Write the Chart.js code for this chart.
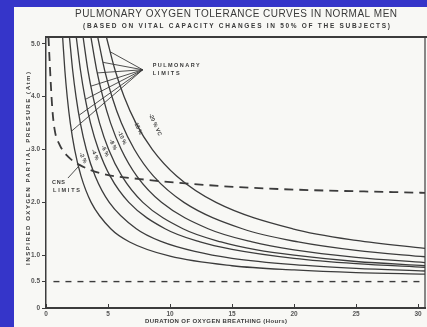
<!DOCTYPE html>
<html>
<head>
<title>Pulmonary Oxygen Tolerance Curves</title>
<script src="https://cdn.jsdelivr.net/npm/chart.js@4.4.0/dist/chart.umd.min.js"></script>
<style>
    html, body { margin: 0; padding: 0; background: #3535c9; }
    .chart-box { position: relative; width: 427px; height: 327px; }
</style>
</head>
<body>
<div class="chart-box"><canvas id="toleranceChart"></canvas></div>
<script>
// axis ticks
const xTicks = [0, 5, 10, 15, 20, 25, 30];
const yTicks = [0, 0.5, 1, 2, 3, 4, 5];
const yTickLabels = ['0', '0.5', '1.0', '2.0', '3.0', '4.0', '5.0'];

// pulmonary limit curves, [hours, atm]
const vc2 = [[1.34,5.13],[1.52,4.5],[1.71,4.0],[1.96,3.5],[2.31,3.0],[2.82,2.5],[3.64,2.0],[5.22,1.5],[6.74,1.25],[10,0.98],[15,0.80],[20,0.72],[25,0.67],[30.56,0.64]];
const vc4 = [[1.89,5.13],[2.15,4.5],[2.42,4.0],[2.77,3.5],[3.25,3.0],[3.96,2.5],[5.10,2.0],[7.28,1.5],[9.38,1.25],[12,1.07],[15,0.94],[20,0.82],[25,0.75],[30.56,0.70]];
const vc6 = [[2.44,5.13],[2.78,4.5],[3.13,4.0],[3.59,3.5],[4.23,3.0],[5.16,2.5],[6.68,2.0],[9.60,1.5],[12.42,1.25],[15,1.11],[20,0.94],[25,0.84],[30.56,0.77]];
const vc8 = [[2.99,5.13],[3.38,4.5],[3.79,4.0],[4.32,3.5],[5.05,3.0],[6.11,2.5],[7.81,2.0],[11.04,1.5],[14.11,1.25],[17,1.10],[20,1.00],[25,0.88],[30.56,0.80]];
const vc10 = [[3.62,5.13],[4.09,4.5],[4.58,4.0],[5.21,3.5],[6.07,3.0],[7.31,2.5],[9.31,2.0],[13.07,1.5],[16.62,1.25],[20,1.10],[25,0.96],[30.56,0.86]];
const vc15 = [[4.17,5.13],[4.73,4.5],[5.32,4.0],[6.08,3.5],[7.13,3.0],[8.65,2.5],[11.12,2.0],[15.83,1.5],[20.33,1.25],[25,1.09],[30.56,0.97]];
const vc20 = [[4.87,5.13],[5.57,4.5],[6.30,4.0],[7.25,3.5],[8.58,3.0],[10.53,2.5],[13.71,2.0],[19.89,1.5],[25,1.28],[30.56,1.13]];
const curveLabels = ['-2 %', '-4 %', '-6 %', '-8 %', '-10 %', '-15 %', '-20 % VC'];
const curveLabelSpots = [[2.98,2.84],[3.95,2.90],[4.76,2.97],[5.40,3.09],[6.13,3.22],[7.42,3.41],[8.79,3.47]];

// CNS limit (dashed) and the 0.5 atm line
const cns = [[0.2,5.13],[0.3,4.64],[0.5,3.8],[0.7,3.37],[1.1,3.09],[1.8,2.86],[2.7,2.71],[4.4,2.55],[7.6,2.44],[14,2.31],[19,2.25],[30.56,2.18]];
const halfAtm = [[0.6,0.5],[30.56,0.5]];

// pointer lines from the labels to the curves
const pulmHub = [7.8, 4.51];
const pulmEnds = [[5.18,4.85],[4.6,4.65],[4.13,4.45],[3.63,4.2],[3.18,3.95],[2.67,3.65],[2.07,3.35]];
const cnsPointer = [[1.77,2.46],[2.74,2.71]];

const ink = '#3c3c3c';
const pts = arr => arr.map(p => ({ x: p[0], y: p[1] }));

const curveSets = [vc2, vc4, vc6, vc8, vc10, vc15, vc20].map((c, i) => ({
    label: curveLabels[i],
    data: pts(c),
    borderColor: ink,
    borderWidth: 1.3,
    cubicInterpolationMode: 'monotone'
}));

const pointerSets = pulmEnds.map(e => ({
    label: 'pointer',
    data: pts([e, pulmHub]),
    borderColor: ink,
    borderWidth: 0.9
}));

// text laid out across a given span
function spacedText(ctx, text, x1, x2, y, font) {
    ctx.font = font;
    ctx.letterSpacing = '0px';
    const w = ctx.measureText(text).width;
    const sp = (x2 - x1 - w) / Math.max(1, text.length - 1);
    ctx.letterSpacing = sp + 'px';
    ctx.textAlign = 'left';
    ctx.textBaseline = 'middle';
    ctx.fillText(text, x1, y);
    ctx.letterSpacing = '0px';
}

const paperPlugin = {
    id: 'paper',
    beforeDraw(chart) {
        const ctx = chart.ctx;
        ctx.save();
        ctx.fillStyle = '#f8f8f5';
        ctx.fillRect(14, 7, chart.width - 14, chart.height - 7);
        ctx.restore();
    },
    afterDraw(chart) {
        const ctx = chart.ctx;
        const a = chart.chartArea;
        const xs = chart.scales.x, ys = chart.scales.y;
        ctx.save();
        // top and right frame
        ctx.strokeStyle = ink;
        ctx.lineWidth = 2;
        ctx.beginPath();
        ctx.moveTo(a.left, a.top);
        ctx.lineTo(chart.width, a.top);
        ctx.stroke();
        ctx.lineWidth = 1.2;
        ctx.beginPath();
        ctx.moveTo(a.right, a.top);
        ctx.lineTo(a.right, a.bottom);
        ctx.stroke();

        // x ticks point up into the plot
        ctx.lineWidth = 1;
        xTicks.forEach(v => {
            const px = Math.round(xs.getPixelForValue(v)) + 0.5;
            ctx.beginPath();
            ctx.moveTo(px, a.bottom);
            ctx.lineTo(px, a.bottom - 4);
            ctx.stroke();
        });

        ctx.fillStyle = '#3a3a3a';
        spacedText(ctx, 'PULMONARY OXYGEN TOLERANCE CURVES IN NORMAL MEN', 75, 397, 14, '10px "Liberation Sans"');
        spacedText(ctx, '(BASED ON VITAL CAPACITY CHANGES IN 50% OF THE SUBJECTS)', 83, 390, 26, 'bold 6.5px "Liberation Sans"');
        spacedText(ctx, 'DURATION OF OXYGEN BREATHING (Hours)', 145, 287, 321, 'bold 6px "Liberation Sans"');

        ctx.save();
        ctx.translate(28, 265);
        ctx.rotate(-Math.PI / 2);
        spacedText(ctx, 'INSPIRED OXYGEN PARTIAL PRESSURE (Atm)', 0, 193, 0, 'bold 6px "Liberation Sans"');
        ctx.restore();

        // notes beside the curves
        const small = 'bold 5.5px "Liberation Sans"';
        spacedText(ctx, 'PULMONARY', xs.getPixelForValue(8.6), xs.getPixelForValue(8.6) + 47, ys.getPixelForValue(4.6), small);
        spacedText(ctx, 'LIMITS', xs.getPixelForValue(8.6), xs.getPixelForValue(8.6) + 27, ys.getPixelForValue(4.43), small);
        spacedText(ctx, 'CNS', 52, 65, 182, small);
        spacedText(ctx, 'LIMITS', 53, 80, 190, small);

        curveLabels.forEach((t, i) => {
            const px = xs.getPixelForValue(curveLabelSpots[i][0]);
            const py = ys.getPixelForValue(curveLabelSpots[i][1]);
            ctx.save();
            ctx.translate(px, py);
            ctx.rotate(65 * Math.PI / 180);
            ctx.font = small;
            ctx.textAlign = 'center';
            ctx.textBaseline = 'middle';
            ctx.fillText(t, 0, 0);
            ctx.restore();
        });
        ctx.restore();
    }
};

new Chart(document.getElementById('toleranceChart'), {
    type: 'scatter',
    data: {
        datasets: [
            ...curveSets,
            ...pointerSets,
            {
                label: 'CNS limits',
                data: pts(cns),
                borderColor: ink,
                borderWidth: 1.8,
                borderDash: [9, 6],
                cubicInterpolationMode: 'monotone'
            },
            {
                label: 'CNS pointer',
                data: pts(cnsPointer),
                borderColor: ink,
                borderWidth: 0.9
            },
            {
                label: '0.5 atm',
                data: pts(halfAtm),
                borderColor: ink,
                borderWidth: 1.4,
                borderDash: [6, 6]
            }
        ]
    },
    options: {
        responsive: true,
        maintainAspectRatio: false,
        animation: false,
        showLine: true,
        elements: { point: { radius: 0, hoverRadius: 0 } },
        layout: { padding: { left: 14, top: 37, right: 2, bottom: 0 } },
        plugins: { legend: { display: false }, tooltip: { enabled: false } },
        scales: {
            x: {
                type: 'linear',
                min: 0,
                max: 30.56,
                afterBuildTicks: s => { s.ticks = xTicks.map(v => ({ value: v })); },
                afterFit: s => { s.height = 19; },
                grid: { drawOnChartArea: false, drawTicks: false, color: ink },
                border: { color: ink, width: 2 },
                ticks: { color: '#555', font: { size: 6.5, family: 'Liberation Sans', weight: 'bold' }, padding: 2, maxRotation: 0 }
            },
            y: {
                type: 'linear',
                min: 0,
                max: 5.13,
                afterBuildTicks: s => { s.ticks = yTicks.map(v => ({ value: v })); },
                afterFit: s => { s.width = 32; },
                grid: { drawOnChartArea: false, tickLength: 4, color: ink },
                border: { color: ink, width: 1.5 },
                ticks: {
                    color: '#555',
                    font: { size: 6.5, family: 'Liberation Sans', weight: 'bold' },
                    padding: 2,
                    callback: v => yTickLabels[yTicks.indexOf(v)]
                }
            }
        }
    },
    plugins: [paperPlugin]
});
</script>
</body>
</html>
